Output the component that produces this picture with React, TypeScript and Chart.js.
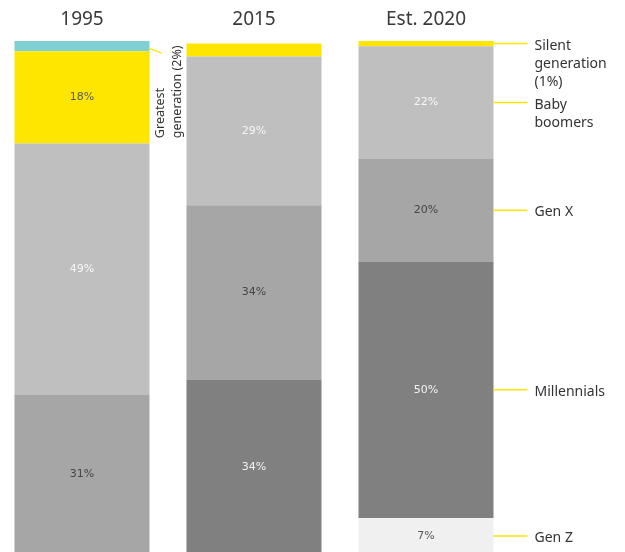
import React, { useEffect, useRef } from 'react';
import { Chart, registerables } from 'chart.js';

Chart.register(...registerables);

// ---- data ----
const years = ['1995', '2015', 'Est. 2020'];
const genZ = [0, 0, 7];
const millennials = [0, 34, 50];
const genX = [31, 34, 20];
const babyBoomers = [49, 29, 22];
const silentGeneration = [18, 2.5, 1];
const greatestGeneration = [2, 0, 0];
const seriesNames = ['Gen Z', 'Millennials', 'Gen X', 'Baby boomers', 'Silent generation', 'Greatest generation'];
const callouts2020 = [['Gen Z'], ['Millennials'], ['Gen X'], ['Baby', 'boomers'], ['Silent', 'generation', '(1%)'], []];
const greatestCallout = ['Greatest', 'generation (2%)'];
const minLabelValue = 5;

// ---- styles ----
const fillColors = ['#f0f0f0', '#808080', '#a6a6a6', '#bfbfbf', '#ffe600', '#80d0d3'];
const valueColors = ['#555555', '#f2f2f2', '#454545', '#f7f7f7', '#5a5a5a', '#555555'];
const leaderColor = '#ffe600';
const textColor = '#333333';

const overlayPlugin = {
  id: 'overlay',
  afterDatasetsDraw(chart: any) {
    const ctx = chart.ctx as CanvasRenderingContext2D;
    const top = chart.chartArea.top;
    ctx.save();

    // value labels
    ctx.font = '11px "DejaVu Sans"';
    ctx.textAlign = 'center';
    ctx.textBaseline = 'middle';
    chart.data.datasets.forEach((ds: any, di: number) => {
      const meta = chart.getDatasetMeta(di);
      meta.data.forEach((el: any, i: number) => {
        const v = ds.data[i];
        if (!v || v < minLabelValue) return;
        const p = el.getProps(['x', 'y', 'base'], true);
        ctx.fillStyle = valueColors[di];
        ctx.fillText(`${v}%`, p.x, (p.y + p.base) / 2);
      });
    });

    // year labels
    ctx.font = '19px "Noto Sans"';
    ctx.fillStyle = '#3a3a3a';
    const meta0 = chart.getDatasetMeta(0);
    (chart.data.labels as string[]).forEach((lab, i) => {
      const el = meta0.data[i];
      ctx.fillText(lab, el.x, top - 21);
    });

    // callouts for the last bar
    const last = years.length - 1;
    ctx.font = '14px "Noto Sans"';
    ctx.textAlign = 'left';
    ctx.textBaseline = 'middle';
    ctx.lineWidth = 1.5;
    ctx.strokeStyle = leaderColor;
    callouts2020.forEach((lines, di) => {
      if (!lines.length) return;
      const el = chart.getDatasetMeta(di).data[last];
      const p = el.getProps(['x', 'y', 'base', 'width'], true);
      const right = p.x + p.width / 2;
      const cy = (p.y + p.base) / 2;
      ctx.beginPath();
      ctx.moveTo(right, cy);
      ctx.lineTo(right + 34, cy);
      ctx.stroke();
      ctx.fillStyle = textColor;
      lines.forEach((t, k) => ctx.fillText(t, right + 41, cy + 2 + k * 18));
    });

    // greatest generation callout (first bar)
    const gi = seriesNames.indexOf('Greatest generation');
    const gel = chart.getDatasetMeta(gi).data[0];
    const gp = gel.getProps(['x', 'y', 'base', 'width'], true);
    const gRight = gp.x + gp.width / 2;
    const gcy = (gp.y + gp.base) / 2;
    ctx.beginPath();
    ctx.moveTo(gRight - 1, gcy + 2);
    ctx.lineTo(gRight + 12, gcy + 7);
    ctx.stroke();
    ctx.save();
    ctx.font = '12.5px "Noto Sans"';
    ctx.translate(gRight + 11, gcy + 92);
    ctx.rotate(-Math.PI / 2);
    ctx.fillStyle = textColor;
    greatestCallout.forEach((t, k) => ctx.fillText(t, 0, k * 17));
    ctx.restore();

    ctx.restore();
  },
};

export default function App() {
  const canvasRef = useRef<HTMLCanvasElement | null>(null);

  useEffect(() => {
    if (!canvasRef.current) return;
    const series = [genZ, millennials, genX, babyBoomers, silentGeneration, greatestGeneration];
    const chart = new Chart(canvasRef.current, {
      type: 'bar',
      data: {
        labels: years,
        datasets: series.map((d, i) => ({
          label: seriesNames[i],
          data: d,
          backgroundColor: fillColors[i],
          borderWidth: 0,
          barPercentage: 0.785,
          categoryPercentage: 1,
        })),
      },
      options: {
        animation: false,
        responsive: true,
        maintainAspectRatio: false,
        layout: { padding: { top: 41, bottom: 2, left: 0, right: 113 } },
        plugins: { legend: { display: false }, tooltip: { enabled: false } },
        scales: {
          x: { display: false, stacked: true, offset: true },
          y: { display: false, stacked: true, min: 0, max: 100 },
        },
      },
      plugins: [overlayPlugin],
    });
    return () => chart.destroy();
  }, []);

  return (
    <div style={{ position: 'absolute', left: 0, top: 0, width: 625, height: 552, overflow: 'hidden', background: '#fff' }}>
      <div style={{ position: 'absolute', left: -4, top: 0, width: 629, height: 556 }}>
        <canvas ref={canvasRef} />
      </div>
    </div>
  );
}
